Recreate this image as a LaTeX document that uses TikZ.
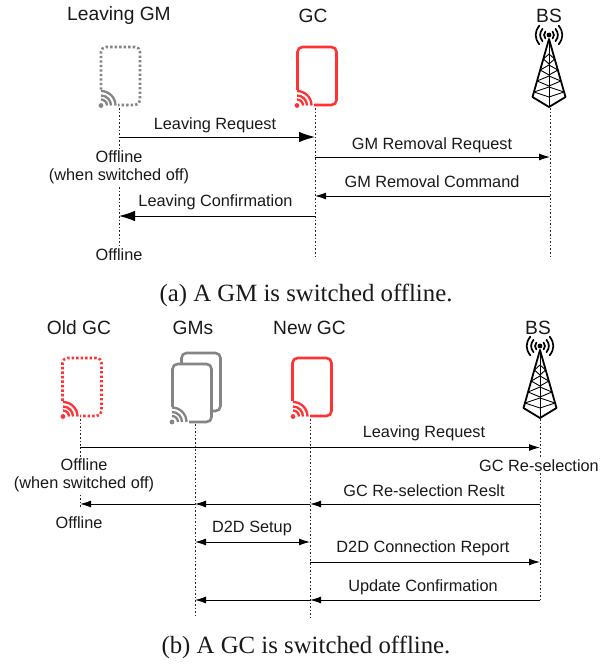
\documentclass[tikz,border=0pt]{standalone}
\usepackage{fontspec}
\setmainfont{Liberation Sans}
\newfontfamily\capfont{Liberation Serif}
\usetikzlibrary{arrows.meta}
\definecolor{phred}{HTML}{FF3333}
\definecolor{phgray}{HTML}{858585}
\tikzset{x=1pt,y=-1pt,
  lab/.style={font=\fontsize{16.3}{18}\selectfont,inner sep=0pt,align=center,text=black!90},
  head/.style={font=\fontsize{19.2}{22}\selectfont,inner sep=0pt,text=black!90},
  captxt/.style={font=\capfont\fontsize{24.8}{28}\selectfont,inner sep=0pt,text=black!90},
  phone/.style={draw=#1,rectangle,rounded corners=5pt,minimum width=39pt,minimum height=58pt,inner sep=0pt,line width=2.6pt,fill=white},
  dotphone/.style={dash pattern=on 2.4pt off 2.1pt,line width=2.6pt},
  life/.style={dash pattern=on 1.6pt off 2pt,line width=1pt,black!85},
  msg/.style={-{Latex[length=16pt,width=10.5pt]},line width=1pt},
  msgs/.style={-{Latex[length=11pt,width=7pt]},line width=1pt},
  both/.style={{Latex[length=11pt,width=7pt]}-{Latex[length=11pt,width=7pt]},line width=1pt},
}
\newcommand{\wifi}[2]{% at (lower left of phone), colour
  \begin{scope}[shift={(#1)}]
    \fill[white] (-2,2) rectangle (18,-17);
    \fill[#2] (1,-1.5) circle (2.4pt);
    \foreach \r in {6,10,14.5}{\draw[#2,line width=2.3pt] (1+\r,-1.5) arc[start angle=0,end angle=90,radius=\r pt];}
  \end{scope}}
\newcommand{\tower}[1]{%
  \begin{scope}[shift={(#1)}]
    \fill (0,-36) circle (2.4pt);
    \foreach \s in {1,-1}{\foreach \r in {5,9,13.5}{
      \draw[line width=1.7pt,line cap=round] (\s*\r*0.72,-36-\r*0.69) .. controls (\s*\r*1.08,-36-\r*0.2) and (\s*\r*1.08,-36+\r*0.2) .. (\s*\r*0.72,-36+\r*0.69);}}
    \draw[line width=1.8pt,line join=round] (-16.5,26) -- (0,-32) -- (16.5,26) -- (0,36) -- cycle;
    \draw[line width=0.9pt] (0,-32) -- (0,36);
    \foreach \y/\h in {-12/5.6,-1/8.8,10/11.9,21/15}{
      \draw[line width=0.9pt] (-\h,\y) -- (0,\y+5) -- (\h,\y);
      \draw[line width=0.9pt] (-\h,\y) -- (0,\y-5) -- (\h,\y);}
  \end{scope}}
\begin{document}
\begin{tikzpicture}
\useasboundingbox (0,0) rectangle (614,664);
% ---- panel a
\node[head] (h1) at (119,16) {Leaving GM};
\node[head] (h2) at (313,16) {GC};
\node[head] (h3) at (549,16) {BS};
\node[phone=phgray,dotphone] (gm) at (120.5,76) {};
\node[phone=phred] (gc) at (317,76) {};
\wifi{100,107}{phgray}
\wifi{296,107}{phred}
\tower{549,71}
\coordinate (gmb) at (119,108);\coordinate (gcb) at (315,108);\coordinate (bsb) at (550,108);
\coordinate (gme) at (119,256);\coordinate (gce) at (315,256);\coordinate (bse) at (550,256);
\foreach \a/\b in {gmb/gme,gcb/gce,bsb/bse}{\draw[life] (\a) -- (\b);}
\coordinate (a1) at (119,137);\coordinate (a2) at (315,137);
\coordinate (a3) at (315,157);\coordinate (a4) at (550,157);
\coordinate (a5) at (550,196);\coordinate (a6) at (315,196);
\coordinate (a7) at (315,216);\coordinate (a8) at (119,216);
\draw[msg] (a1) -- (a2);
\draw[msgs] (a3) -- (a4);
\draw[msgs] (a5) -- (a6);
\draw[msg] (a7) -- (a8);
\node[lab] (l1) at (215,125) {Leaving Request};
\node[lab] (l2) at (432,145) {GM Removal Request};
\node[lab] (l3) at (432,182) {GM Removal Command};
\node[lab] (l4) at (215.5,202.5) {Leaving Confirmation};
\node[lab,fill=white,inner ysep=1pt] (o1) at (119,167.5) {Offline\\[0pt](when switched off)};
\node[lab,fill=white,inner ysep=1pt] (o2) at (119,255) {Offline};
\node[captxt] (c1) at (306,295.5) {(a) A GM is switched offline.};
% ---- panel b
\node[head] (h4) at (79,328) {Old GC};
\node[head] (h5) at (193,328) {GMs};
\node[head] (h6) at (309.5,328) {New GC};
\node[head] (h7) at (538,328) {BS};
\node[phone=phred,dotphone] (og) at (82,387) {};
\node[phone=phgray] (gb) at (201,382) {};
\node[phone=phgray] (ga) at (192,393) {};
\node[phone=phred] (ng) at (312,387) {};
\wifi{62,418}{phred}
\wifi{171,423.5}{phgray}
\wifi{292,418}{phred}
\tower{540,382}
\coordinate (ogb) at (80,419);\coordinate (gab) at (195,424);\coordinate (ngb) at (310,419);\coordinate (bbb) at (540,419);
\coordinate (oge) at (80,507);\coordinate (gae) at (195,618);\coordinate (nge) at (310,618);\coordinate (bbe) at (540,600);
\foreach \a/\b in {ogb/oge,gab/gae,ngb/nge,bbb/bbe}{\draw[life] (\a) -- (\b);}
\coordinate (b1) at (80,447.5);\coordinate (b2) at (540,447.5);
\coordinate (b3) at (540,504);\coordinate (b4) at (310,504);\coordinate (b5) at (195,504);\coordinate (b6) at (80,504);
\coordinate (b7) at (195,542);\coordinate (b8) at (310,542);
\coordinate (b9) at (310,562);\coordinate (b10) at (540,562);
\coordinate (b11) at (540,600);\coordinate (b12) at (310,600);\coordinate (b13) at (195,600);
\draw[msgs] (b1) -- (b2);
\draw[msgs] (b3) -- (b4);
\draw[msgs] (b4) -- (b5);
\draw[msgs] (b5) -- (b6);
\draw[both] (b7) -- (b8);
\draw[msgs] (b9) -- (b10);
\draw[msgs] (b11) -- (b12);
\draw[msgs] (b12) -- (b13);
\node[lab] (m1) at (424,433.5) {Leaving Request};
\node[lab,fill=white,inner ysep=1pt] (m2) at (539,465.5) {GC Re-selection};
\node[lab] (m3) at (424,490.5) {GC Re-selection Reslt};
\node[lab] (m4) at (252,528.5) {D2D Setup};
\node[lab] (m5) at (423,548.5) {D2D Connection Report};
\node[lab] (m6) at (423,587.5) {Update Confirmation};
\node[lab,fill=white,inner ysep=1pt] (m7) at (84,475.5) {Offline\\[0pt](when switched off)};
\node[lab,fill=white,inner ysep=1pt] (m8) at (79,522.5) {Offline};
\node[captxt] (c2) at (306,647.5) {(b) A GC is switched offline.};
\end{tikzpicture}
\end{document}
